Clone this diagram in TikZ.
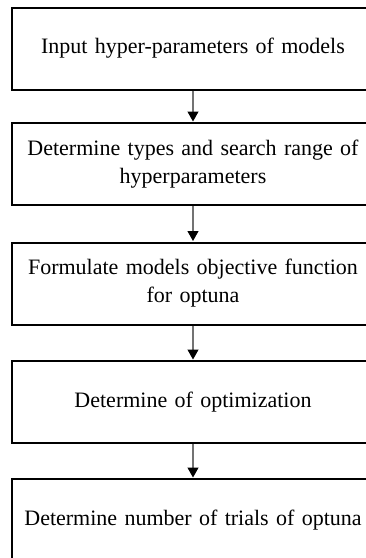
\documentclass[tikz,border=0pt]{standalone}
\usepackage{fontspec}
\setmainfont[WordSpace={0.7,0,0}]{Liberation Serif}
\usetikzlibrary{arrows.meta}
\begin{document}
\begin{tikzpicture}[x=1pt,y=1pt,
  stepbox/.style={draw=black, line width=2pt, fill=white, minimum width=362pt, minimum height=82pt,
    text width=355pt, align=center, inner sep=0pt, font=\fontsize{22}{28}\selectfont},
  flow/.style={draw=black!55, line width=1.2pt, -{Triangle[black,width=11pt,length=10pt]}, shorten >=0.5pt}]
\useasboundingbox (0,0) rectangle (366,-558);
\clip (0,0) rectangle (366,-558);
\fill[white] (0,0) rectangle (366,-558);
\node[stepbox] (b1) at (193,-48.5) {Input hyper-parameters of models};
\node[stepbox] (b2) at (193,-164) {Determine types and search range of\\hyperparameters};
\node[stepbox] (b3) at (193,-283.5) {Formulate models objective function\\for optuna};
\node[stepbox] (b4) at (193,-402) {Determine of optimization};
\node[stepbox] (b5) at (193,-520) {Determine number of trials of optuna};
\draw[flow] (b1) -- (b2);
\draw[flow] (b2) -- (b3);
\draw[flow] (b3) -- (b4);
\draw[flow] (b4) -- (b5);
\end{tikzpicture}
\end{document}
